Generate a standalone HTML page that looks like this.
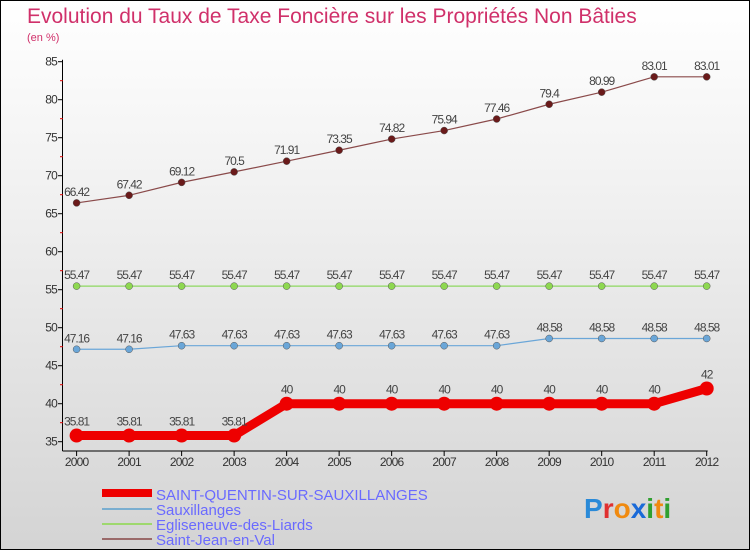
<!DOCTYPE html>
<html><head><meta charset="utf-8"><style>
body{margin:0}
#c{position:relative;width:750px;height:550px;box-sizing:border-box;border:1px solid #000;background:linear-gradient(#fff 0%,#f3f3f3 30%,#d4d4d4 100%);font-family:"Liberation Sans",sans-serif;overflow:hidden}
svg{position:absolute;left:0;top:0}
</style></head><body>
<div id="c">
<svg id="s" width="750" height="550">
<text x="26" y="22" font-size="21" fill="#d0306a">Evolution du Taux de Taxe Foncière sur les Propriétés Non Bâties</text>
<text x="26" y="40" font-size="11" fill="#d0306a">(en %)</text>
<g id="legend">
<rect x="101" y="488" width="50" height="8" fill="#e00"/>
<text x="155" y="499" font-size="15" fill="#6a6aff">SAINT-QUENTIN-SUR-SAUXILLANGES</text>
<rect x="101" y="507" width="50" height="2" fill="#7aaed0"/>
<text x="155" y="514" font-size="15" fill="#6a6aff">Sauxillanges</text>
<rect x="101" y="522" width="50" height="2" fill="#9ed86e"/>
<text x="155" y="529" font-size="15" fill="#6a6aff">Egliseneuve-des-Liards</text>
<rect x="101" y="537" width="50" height="2" fill="#9a6a6a"/>
<text x="155" y="544" font-size="15" fill="#6a6aff">Saint-Jean-en-Val</text>
</g>
<text x="583" y="517" font-size="28" font-weight="bold"><tspan fill="#2a8ad8">P</tspan><tspan fill="#e03030">r</tspan><tspan fill="#f08a10">o</tspan><tspan fill="#1a6ad8">x</tspan><tspan fill="#30a030">i</tspan><tspan fill="#f08a10">t</tspan><tspan fill="#30a030">i</tspan></text>
</svg>
</div>
<script>
const years=[2000,2001,2002,2003,2004,2005,2006,2007,2008,2009,2010,2011,2012];
const stQuentin=[35.81,35.81,35.81,35.81,40,40,40,40,40,40,40,40,42];
const sauxillanges=[47.16,47.16,47.63,47.63,47.63,47.63,47.63,47.63,47.63,48.58,48.58,48.58,48.58];
const egliseneuve=[55.47,55.47,55.47,55.47,55.47,55.47,55.47,55.47,55.47,55.47,55.47,55.47,55.47];
const saintJean=[66.42,67.42,69.12,70.5,71.91,73.35,74.82,75.94,77.46,79.4,80.99,83.01,83.01];
const yTicks=[35,40,45,50,55,60,65,70,75,80,85];
const NS="http://www.w3.org/2000/svg",s=document.getElementById('s');
const x=i=>75.6+i*(705.7-75.6)/(years.length-1);
const y=v=>440.7-(v-35)*7.6;
function mk(t,a,p){const e=document.createElementNS(NS,t);for(const k in a)e.setAttribute(k,a[k]);(p||s).appendChild(e);return e;}
const ax=mk('g',{});


mk('line',{x1:61.5,y1:y(85)-2,x2:61.5,y2:450,stroke:'#000','stroke-width':1},ax);
mk('line',{x1:61.5,y1:450,x2:x(12)+1,y2:450,stroke:'#000','stroke-width':1},ax);
yTicks.forEach(v=>{
 mk('line',{x1:57,y1:y(v),x2:62,y2:y(v),stroke:'#000'},ax);
 if(v<85)mk('line',{x1:59,y1:y(v+2.5),x2:62,y2:y(v+2.5),stroke:'#d00'},ax);
 const t=mk('text',{x:56,y:y(v)+4,'font-size':12,fill:'#333','text-anchor':'end','letter-spacing':'-0.8'},ax);
 t.textContent=v;
 
 
});
years.forEach((yr,i)=>{
 mk('line',{x1:x(i),y1:450,x2:x(i),y2:455,stroke:'#000'},ax);
 const t=mk('text',{x:x(i),y:465,'font-size':12,fill:'#333','text-anchor':'middle','letter-spacing':'-0.8'},ax);
 t.textContent=yr;
 
 
});
function series(data,color,lw,r,name,ptColor){
 const g=mk('g',{});
 
 
 const l=mk('polyline',{points:data.map((v,i)=>x(i)+','+y(v)).join(' '),fill:'none',stroke:color,'stroke-width':lw,'stroke-linejoin':'round'},g);
 
 
 data.forEach((v,i)=>{
  const c=mk('circle',{cx:x(i),cy:y(v),r:r,fill:ptColor,stroke:lw>2?'none':'#555','stroke-width':0.5},g);
  
  
  const t=mk('text',{x:x(i),y:y(v)-(lw>2?10:7),'font-size':12,fill:'#444','text-anchor':'middle','letter-spacing':'-1'},g);
  t.textContent=v;
  
  
 });
}
series(saintJean,'#8a4a4a',1.2,3.5,'saint-jean','#6a1a1a');
series(egliseneuve,'#8ed860',1.2,3.5,'egliseneuve','#8ed850');
series(sauxillanges,'#6aa6d8',1.2,3.5,'sauxillanges','#6aa6d8');
series(stQuentin,'#ee0000',9,7,'saint-quentin','#ee0000');
</script>
</body></html>
